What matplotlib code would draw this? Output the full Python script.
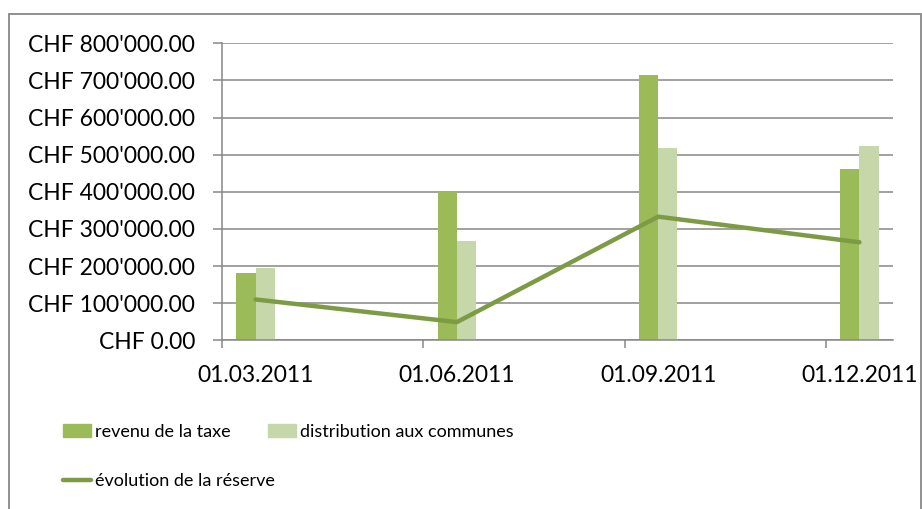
import matplotlib
matplotlib.use("Agg")
import matplotlib.pyplot as plt
from matplotlib.patches import Rectangle
from matplotlib.ticker import FuncFormatter

plt.rcParams['font.family'] = ['Lato', 'DejaVu Sans']

# dates (quarterly) and values in CHF
dates = ['01.03.2011', '01.06.2011', '01.09.2011', '01.12.2011']
revenu = [182000, 400000, 714000, 461000]
distribution = [195000, 267000, 518000, 523000]
reserve = [110000, 49000, 333000, 264000]

# axis in months since March 2011, each date sits in the middle of its month slot
month_idx = [0, 3, 6, 9]
centers = [m + 0.5 for m in month_idx]

c_dark = '#9BBB59'
c_light = '#C6D7A9'
c_line = '#7D9B45'
c_grid = '#878787'

fig = plt.figure(figsize=(9.22, 5.09), dpi=100)
W, H = 922, 509
ax = fig.add_axes([222 / W, (H - 340.3) / H, 671 / W, 297 / H])

bw = 0.285
ax.bar([c - bw / 2 for c in centers], revenu, width=bw, color=c_dark, zorder=2)
ax.bar([c + bw / 2 for c in centers], distribution, width=bw, color=c_light, zorder=2)
ax.plot(centers, reserve, color=c_line, lw=3.2, solid_capstyle='round', zorder=3)

ax.set_xlim(0, 10)
ax.set_ylim(0, 800000)
ax.set_yticks(range(0, 800001, 100000))
ax.yaxis.set_major_formatter(FuncFormatter(
    lambda v, p: "CHF " + f"{v:,.2f}".replace(",", "'")))
ax.grid(axis='y', color=c_grid, lw=1.1, zorder=1)

ax.set_xticks(month_idx)
ax.set_xticklabels([])
ax.set_xticks(centers, minor=True)
ax.set_xticklabels(dates, minor=True)
ax.tick_params(axis='x', which='major', length=6, color=c_grid, width=1.1)
ax.tick_params(axis='x', which='minor', length=0, pad=18, labelsize=16.5)
ax.tick_params(axis='y', length=6.5, color=c_grid, width=1.1, pad=13, labelsize=16.5)

for s in ['top', 'right']:
    ax.spines[s].set_visible(False)
for s in ['left', 'bottom']:
    ax.spines[s].set_color(c_grid)
    ax.spines[s].set_linewidth(1.1)

# legend, done as two blocks so the second column sits where it does in the original
fs = 13
px = fs * 100 / 72  # one font size in pixels
h_rev = Rectangle((0, 0), 1, 1, color=c_dark)
h_dis = Rectangle((0, 0), 1, 1, color=c_light)
h_res, = ax.plot([], [], color=c_line, lw=3.2, solid_capstyle='round')
leg_kw = dict(loc='upper left', frameon=False, fontsize=fs, borderpad=0, borderaxespad=0,
              handlelength=28 / px, handleheight=13 / px, handletextpad=4 / px,
              labelspacing=33 / px)
fig.legend([h_rev, h_res], ['revenu de la taxe', 'évolution de la réserve'],
           bbox_to_anchor=(63 / W, 1 - 424 / H), **leg_kw)
fig.legend([h_dis], ['distribution aux communes'],
           bbox_to_anchor=(268 / W, 1 - 424 / H), **leg_kw)

# chart border
fig.add_artist(Rectangle((9 / W, -0.01), (921 - 9) / W, 1.01 - 14 / H,
                         transform=fig.transFigure, fill=False,
                         edgecolor='#888888', lw=1.3))

fig.savefig('out.png', dpi=100)
